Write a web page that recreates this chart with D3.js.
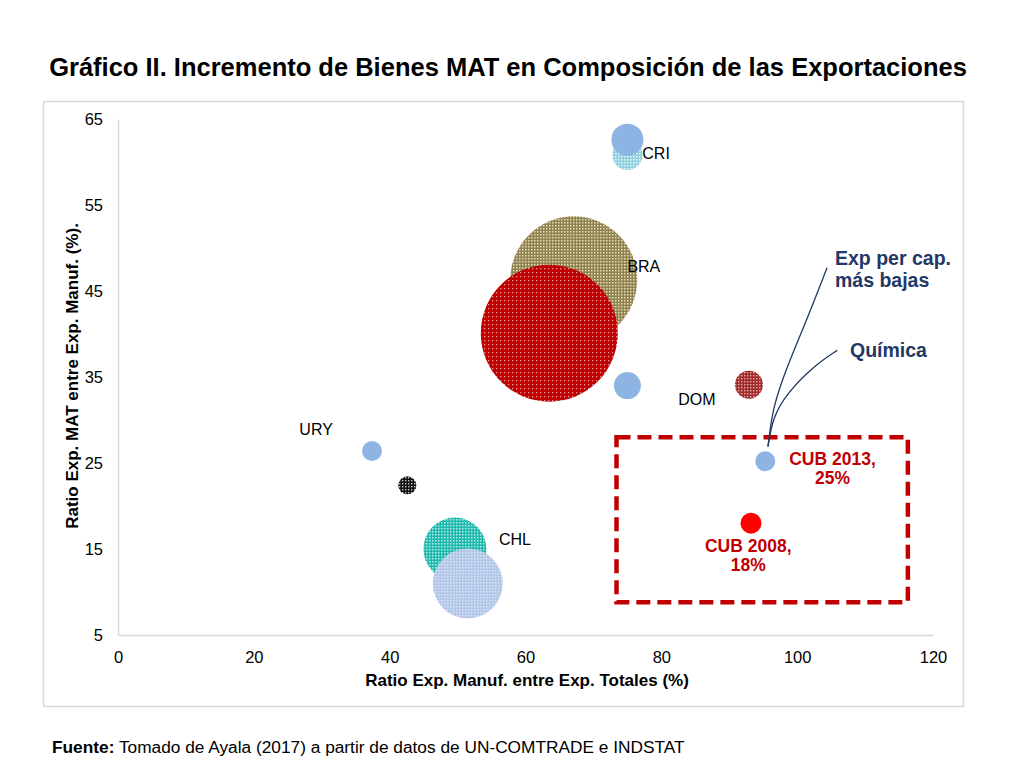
<html>
<head>
<meta charset="utf-8">
<script src="https://d3js.org/d3.v7.min.js"></script>
<style>
    body { margin: 0; background: #fff; }
    text { font-family: "Liberation Sans", Arial, Helvetica, sans-serif; }
    .tick-label { font-size: 16.5px; fill: #000; }
    .axis-title { font-size: 17px; font-weight: bold; fill: #000; }
    .country { font-size: 16px; fill: #000; }
    .cub { font-size: 17.5px; font-weight: bold; fill: #C00000; }
    .note { font-size: 19.5px; font-weight: bold; fill: #1F3864; }
</style>
</head>
<body>
<svg id="chart" width="1024" height="768"></svg>
<script>
    // bubbles, in drawing order (later ones sit on top)
    const bubbleIds = ['CRI_a', 'CRI_b', 'BRA_a', 'BRA_b', 'DOM_b', 'DOM_a', 'URY_b', 'URY_a', 'CHL_a', 'CHL_b', 'CUB_2013', 'CUB_2008'];
    const bubbleX = [75.0, 75.0, 67.1, 63.5, 75.0, 92.9, 37.4, 42.6, 49.6, 51.5, 95.3, 93.2];
    const bubbleY = [60.8, 62.6, 46.3, 40.1, 34.0, 34.1, 26.4, 22.4, 15.0, 11.0, 25.2, 18.0];
    const bubbleSize = [225, 256, 4032, 4692, 182, 196, 100, 81, 992, 1225, 100, 110];

    // country labels (data position of the text start)
    const labelText = ['CRI', 'BRA', 'DOM', 'URY', 'CHL'];
    const labelX = [77.2, 75.0, 82.5, 26.7, 56.1];
    const labelY = [60.3, 47.2, 31.7, 28.3, 15.5];

    const cubText = [['CUB 2013,', '25%'], ['CUB 2008,', '18%']];
    const cubX = [105.2, 92.8];
    const cubY = [24.8, 14.7];

    // highlighted region round Cuba
    const boxX = [73.4, 116.3];
    const boxY = [8.8, 28.0];

    // callout lines
    const callout1 = [[95.7, 26.9], [96.4, 31.5], [98.5, 36.2], [101.4, 41.6], [104.4, 47.7]];
    const callout2 = [[95.7, 26.9], [96.4, 30.3], [98.5, 33.1], [102.3, 36.2], [105.9, 38.1]];

    const xTicks = [0, 20, 40, 60, 80, 100, 120];
    const yTicks = [5, 15, 25, 35, 45, 55, 65];

    const svg = d3.select('#chart');

    const x = d3.scaleLinear().domain([0, 120]).range([118, 933]);
    const y = d3.scaleLinear().domain([5, 65]).range([635, 119]);
    const r = d3.scaleSqrt().domain([0, 100]).range([0, 10]);

    // patterns for the dotted bubbles
    const defs = svg.append('defs');
    function dotPattern(id, base, dot, size, dotSize, op) {
        const p = defs.append('pattern')
            .attr('id', id)
            .attr('patternUnits', 'userSpaceOnUse')
            .attr('width', size).attr('height', size);
        p.append('rect').attr('width', size).attr('height', size).attr('fill', base);
        p.append('rect').attr('width', dotSize).attr('height', dotSize)
            .attr('fill', dot).attr('opacity', op);
    }
    dotPattern('p-cri', '#8FCFE0', '#ffffff', 3, 1.5, 0.8);
    dotPattern('p-bra', '#8E8152', '#F0E6B8', 3, 1.5, 0.9);
    dotPattern('p-red', '#C00000', '#ffffff', 4, 1.3, 0.6);
    dotPattern('p-dom', '#A12A2A', '#ffffff', 3, 1.4, 0.65);
    dotPattern('p-blk', '#111111', '#ffffff', 3, 1.4, 0.75);
    dotPattern('p-chl', '#1CB9AC', '#ffffff', 3, 1.5, 0.7);
    dotPattern('p-lb', '#B2C7E8', '#DCE6F6', 3, 1.5, 0.9);

    const fills = {
        CRI_a: 'url(#p-cri)', CRI_b: '#8EB4E3',
        BRA_a: 'url(#p-bra)', BRA_b: 'url(#p-red)',
        DOM_b: '#8EB4E3', DOM_a: 'url(#p-dom)',
        URY_b: '#8EB4E3', URY_a: 'url(#p-blk)',
        CHL_a: 'url(#p-chl)', CHL_b: 'url(#p-lb)',
        CUB_2013: '#8EB4E3', CUB_2008: '#FF0000'
    };

    // outer frame
    svg.append('rect')
        .attr('x', 43.5).attr('y', 101.5)
        .attr('width', 920).attr('height', 605)
        .attr('fill', 'none').attr('stroke', '#D9D9D9').attr('stroke-width', 1.5);

    // title
    svg.append('text')
        .attr('x', 508).attr('y', 76)
        .attr('text-anchor', 'middle')
        .style('font-size', '25.5px').style('font-weight', 'bold')
        .text('Gráfico II. Incremento de Bienes MAT en Composición de las Exportaciones');

    // axes
    const xAxis = svg.append('g')
        .attr('transform', `translate(0,${y(5)})`)
        .call(d3.axisBottom(x).tickValues(xTicks).tickSize(0).tickPadding(14));
    const yAxis = svg.append('g')
        .attr('transform', `translate(${x(0)},0)`)
        .call(d3.axisLeft(y).tickValues(yTicks).tickSize(0).tickPadding(15));
    [xAxis, yAxis].forEach(a => {
        a.select('.domain').attr('stroke', '#D9D9D9').attr('stroke-width', 1.5);
        a.selectAll('text').attr('class', 'tick-label').attr('font-family', null).attr('font-size', null);
    });
    xAxis.selectAll('text').attr('dy', '0.85em');
    yAxis.selectAll('text').attr('dy', '0.35em');

    svg.append('text')
        .attr('class', 'axis-title')
        .attr('x', 527).attr('y', 686)
        .attr('text-anchor', 'middle')
        .text('Ratio Exp. Manuf. entre Exp. Totales (%)');

    svg.append('text')
        .attr('class', 'axis-title')
        .attr('transform', 'translate(78,376) rotate(-90)')
        .attr('text-anchor', 'middle')
        .text('Ratio Exp. MAT entre Exp. Manuf. (%).');

    // bubbles
    const bubbles = bubbleIds.map((id, i) => ({ id, x: bubbleX[i], y: bubbleY[i], size: bubbleSize[i] }));
    svg.append('g').selectAll('circle')
        .data(bubbles)
        .join('circle')
        .attr('cx', d => x(d.x))
        .attr('cy', d => y(d.y))
        .attr('r', d => r(d.size))
        .attr('fill', d => fills[d.id]);

    // country labels
    svg.append('g').selectAll('text')
        .data(labelText)
        .join('text')
        .attr('class', 'country')
        .attr('x', (d, i) => x(labelX[i]))
        .attr('y', (d, i) => y(labelY[i]))
        .text(d => d);

    // dashed box
    svg.append('rect')
        .attr('x', x(boxX[0])).attr('y', y(boxY[1]))
        .attr('width', x(boxX[1]) - x(boxX[0]))
        .attr('height', y(boxY[0]) - y(boxY[1]))
        .attr('fill', 'none')
        .attr('stroke', '#C00000')
        .attr('stroke-width', 4.5)
        .attr('stroke-dasharray', '14,7');

    // Cuba labels
    cubText.forEach((lines, i) => {
        const t = svg.append('text')
            .attr('class', 'cub')
            .attr('text-anchor', 'middle')
            .attr('x', x(cubX[i]))
            .attr('y', y(cubY[i]));
        lines.forEach((l, j) => {
            t.append('tspan')
                .attr('x', x(cubX[i]))
                .attr('dy', j === 0 ? 0 : 19)
                .text(l);
        });
    });

    // callouts
    const line = d3.line().x(d => x(d[0])).y(d => y(d[1])).curve(d3.curveBasis);
    [callout1, callout2].forEach(c => {
        svg.append('path')
            .attr('d', line(c))
            .attr('fill', 'none')
            .attr('stroke', '#1F3864')
            .attr('stroke-width', 1.3);
    });

    const note1 = svg.append('text').attr('class', 'note').attr('x', 835).attr('y', 265);
    note1.append('tspan').attr('x', 835).text('Exp per cap.');
    note1.append('tspan').attr('x', 835).attr('dy', 22).text('más bajas');

    svg.append('text').attr('class', 'note').attr('x', 850).attr('y', 357).text('Química');

    // source
    const src = svg.append('text').attr('x', 52).attr('y', 753).style('font-size', '17.3px');
    src.append('tspan').style('font-weight', 'bold').text('Fuente:');
    src.append('tspan').text(' Tomado de Ayala (2017) a partir de datos de UN-COMTRADE e INDSTAT');
</script>
</body>
</html>
